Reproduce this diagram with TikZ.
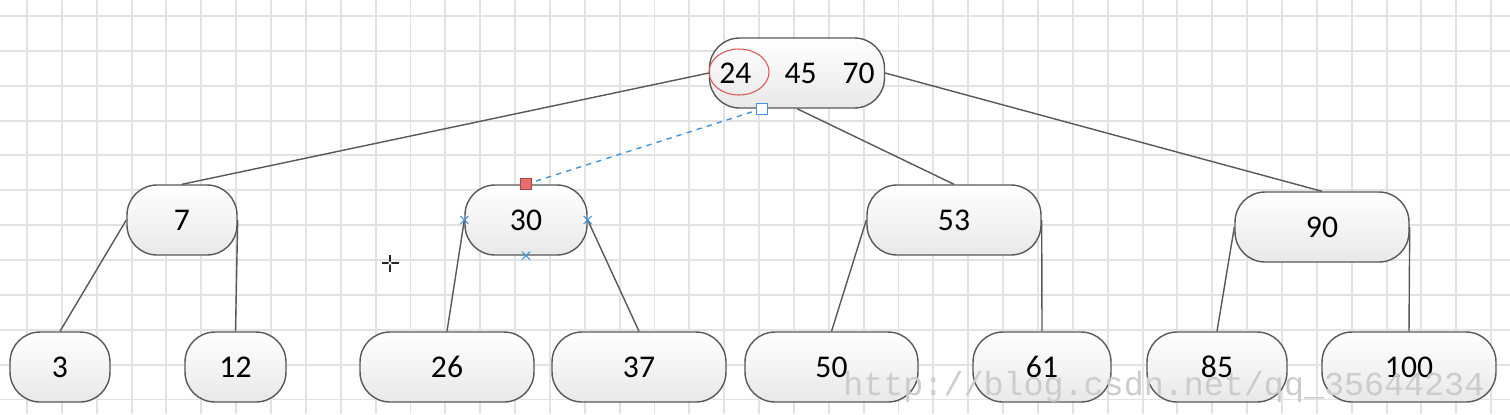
\documentclass[tikz,border=0pt]{standalone}
\usepackage{fontspec}
\setmainfont{Carlito}
\newfontfamily\markfont{Liberation Mono}
\usetikzlibrary{shapes.geometric, shapes.misc}
\definecolor{gridgray}{RGB}{226,226,226}
\definecolor{edgegray}{RGB}{88,88,88}
\definecolor{selblue}{RGB}{66,146,220}
\definecolor{selred}{RGB}{226,84,84}

\begin{document}
\begin{tikzpicture}[
    x=0.02cm, y=-0.02cm,
    key/.style={draw=edgegray, line width=0.8pt, rounded corners=0.6cm, top color=white, bottom color=black!9, minimum height=1.4cm, inner sep=0pt, font=\fontsize{18}{20}\selectfont},
    gridline/.style={gridgray, line width=1.1pt},
    handle/.style={draw, rectangle, minimum size=0.22cm, inner sep=0pt, line width=0.6pt},
    xmark/.style={cross out, draw=selblue, minimum size=0.14cm, inner sep=0pt, line width=0.6pt}
  ]
    \def\edgewidth{0.8pt}
  \useasboundingbox[fill=white] (0,0) rectangle (1510,414);
  % background grid
  \foreach \k in {0,...,42} \draw[gridline] (27+34.86*\k,0) -- (27+34.86*\k,414);
  \foreach \k in {0,...,11} \draw[gridline] (0,16+34.86*\k) -- (1510,16+34.86*\k);

  \node[key, minimum width=3.5cm] (root) at (797,73) {24\hspace{1.05em}45\hspace{0.82em}70};
  \node[ellipse, draw=selred, line width=0.6pt, minimum width=1.2cm, minimum height=0.92cm] (mark24) at (739,72) {};

  \node[key, minimum width=2.2cm] (n7) at (182,220) {7};
  \node[key, minimum width=2.44cm] (n30) at (526,220) {30};
  \node[key, minimum width=3.48cm] (n53) at (954,220) {53};
  \node[key, minimum width=3.48cm] (n90) at (1322,227) {90};

  \node[key, minimum width=2cm] (n3) at (60,367) {3};
  \node[key, minimum width=2.02cm] (n12) at (235.5,367) {12};
  \node[key, minimum width=3.48cm] (n26) at (447,367) {26};
  \node[key, minimum width=3.48cm] (n37) at (639,367) {37};
  \node[key, minimum width=3.46cm] (n50) at (831.5,367) {50};
  \node[key, minimum width=2.76cm] (n61) at (1042,367) {61};
  \node[key, minimum width=2.8cm] (n85) at (1217,367) {85};
  \node[key, minimum width=3.48cm] (n100) at (1409,367) {100};

  \draw[edgegray, line width=\edgewidth] (root.west) -- (n7.north);
  \draw[edgegray, line width=\edgewidth] (root.south) -- (n53.north);
  \draw[edgegray, line width=\edgewidth] (root.east) -- (n90.north);
  \draw[edgegray, line width=\edgewidth] (n7.west) -- (n3.north);
  \draw[edgegray, line width=\edgewidth] (n7.east) -- (n12.north);
  \draw[edgegray, line width=\edgewidth] (n30.west) -- (n26.north);
  \draw[edgegray, line width=\edgewidth] (n30.east) -- (n37.north);
  \draw[edgegray, line width=\edgewidth] (n53.west) -- (n50.north);
  \draw[edgegray, line width=\edgewidth] (n53.east) -- (n61.north);
  \draw[edgegray, line width=\edgewidth] (n90.west) -- (n85.north);
  \draw[edgegray, line width=\edgewidth] (n90.east) -- (n100.north);

  % selected connector
  \coordinate (rootport) at ([xshift=-0.7cm]root.south);
  \draw[selblue, dashed, line width=\edgewidth] (n30.north) -- (rootport);
  \node[handle, draw=selblue, fill=white] (porthandle) at (rootport) {};
  \node[handle, draw=selred!80!black, fill=selred!85] (endhandle) at (n30.north) {};
  \node[xmark] (xw) at (n30.west) {};
  \node[xmark] (xe) at (n30.east) {};
  \node[xmark] (xs) at (n30.south) {};

  % cursor
  \coordinate (cursor) at (390,263);
  \draw[black!85, line width=0.9pt] ([xshift=-0.17cm]cursor) -- ([xshift=0.17cm]cursor);
  \draw[black!85, line width=0.9pt] ([yshift=-0.17cm]cursor) -- ([yshift=0.17cm]cursor);
  \fill[white] (cursor) circle (0.035cm);

  \node[text=black!20, font=\markfont\fontsize{19}{20}\selectfont, anchor=base west, inner sep=0pt] (watermark) at (843,395) {http://blog.csdn.net/qq\_35644234};
\end{tikzpicture}
\end{document}
